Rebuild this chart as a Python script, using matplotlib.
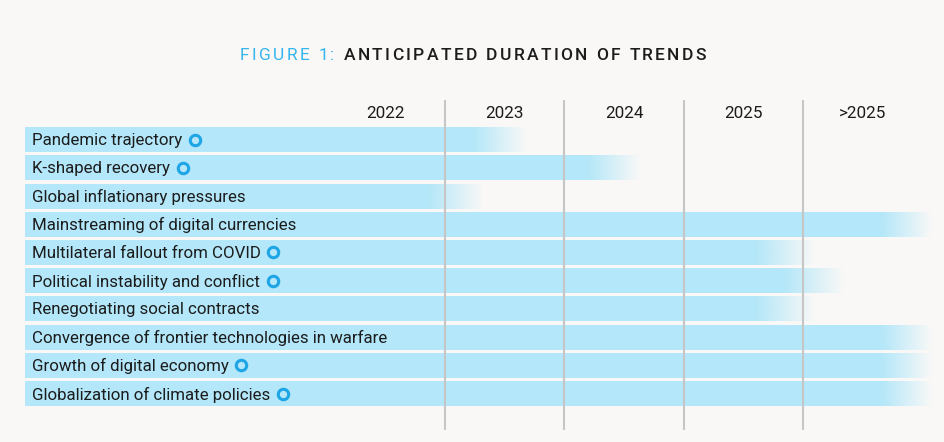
import numpy as np
import matplotlib
matplotlib.use("Agg")
import matplotlib.pyplot as plt
from matplotlib.font_manager import FontProperties

# data
trends = [
    "Pandemic trajectory",
    "K-shaped recovery",
    "Global inflationary pressures",
    "Mainstreaming of digital currencies",
    "Multilateral fallout from COVID",
    "Political instability and conflict",
    "Renegotiating social contracts",
    "Convergence of frontier technologies in warfare",
    "Growth of digital economy",
    "Globalization of climate policies",
]
# where the solid part of the bar stops and where the fade ends (in years)
solid_end = [2023.23, 2024.19, 2022.86, 2026.65, 2025.60, 2025.83, 2025.60, 2026.65, 2026.65, 2026.65]
fade_end = [2023.67, 2024.63, 2023.32, 2027.07, 2026.10, 2026.34, 2026.10, 2027.07, 2027.07, 2027.07]
has_marker = [True, True, False, False, True, True, False, False, True, True]
year_labels = ["2022", "2023", "2024", "2025", ">2025"]
year_starts = [2022, 2023, 2024, 2025, 2026]
bar_start = 2019.48

BG = "#f9f8f7"
BAR = "#b3e7f9"
CYAN = "#1ea5e6"
DARK = "#1c1c1c"
GRID = "#c6c6c6"
FONT = "Roboto"

fig = plt.figure(figsize=(9.45, 4.42), dpi=100, facecolor=BG)
ax = fig.add_axes([0, 0, 1, 1])
ax.set_facecolor(BG)
ax.set_axis_off()

xlim = (2019.27, 2027.19)
ylim = (10.71, -4.94)
bar_h = 0.885

rows = np.arange(len(trends))
ax.barh(rows, np.array(solid_end) - bar_start, left=bar_start, height=bar_h,
        color=BAR, zorder=1)

# fading tail of each bar
rgb = matplotlib.colors.to_rgb(BAR)
grad = np.zeros((1, 256, 4))
grad[..., :3] = rgb
grad[..., 3] = np.linspace(1, 0, 256)
for i, (s, e) in enumerate(zip(solid_end, fade_end)):
    ax.imshow(grad, extent=[s, e, i + bar_h / 2, i - bar_h / 2],
              aspect="auto", interpolation="bilinear", zorder=1)

# column dividers
for x in year_starts[1:]:
    ax.plot([x, x], [-1.40, 10.28], color=GRID, lw=1.5, zorder=3,
            solid_capstyle="butt")

# year headers
for lab, x in zip(year_labels, year_starts):
    ax.text(x + 0.5, -0.92, lab, ha="center", va="center", fontsize=12.3,
            family=FONT, color=DARK)

ax.set_xlim(*xlim)
ax.set_ylim(*ylim)

# row labels
texts = []
for i, name in enumerate(trends):
    t = ax.text(bar_start + 0.055, i + 0.03, name, ha="left", va="center",
                fontsize=12.2, family=FONT, color=DARK, zorder=4)
    texts.append(t)

fig.canvas.draw()
renderer = fig.canvas.get_renderer()
inv = ax.transData.inverted()
for i, t in enumerate(texts):
    if not has_marker[i]:
        continue
    bb = t.get_window_extent(renderer)
    xd = inv.transform((bb.x1 + 13, 0))[0]
    ax.plot(xd, i, marker="o", ms=7.5, mfc="none", mec=CYAN, mew=2.2, zorder=5)


# title with letter spacing
def spaced(parts, x_px, y_px, size, extra):
    x = x_px
    for txt, col, wt in parts:
        fp = FontProperties(family=FONT, size=size, weight=wt)
        for ch in txt:
            w, h, d = renderer.get_text_width_height_descent(ch, fp, ismath=False)
            fig.text(x / 945, 1 - y_px / 442, ch, fontproperties=fp, color=col,
                     ha="left", va="center")
            x += w + extra


spaced([("FIGURE 1: ", "#35b5ec", "normal"),
        ("ANTICIPATED DURATION OF TRENDS", DARK, "medium")],
       240, 55, 12.5, 2.35)

fig.savefig("out.png", dpi=100, facecolor=BG)
